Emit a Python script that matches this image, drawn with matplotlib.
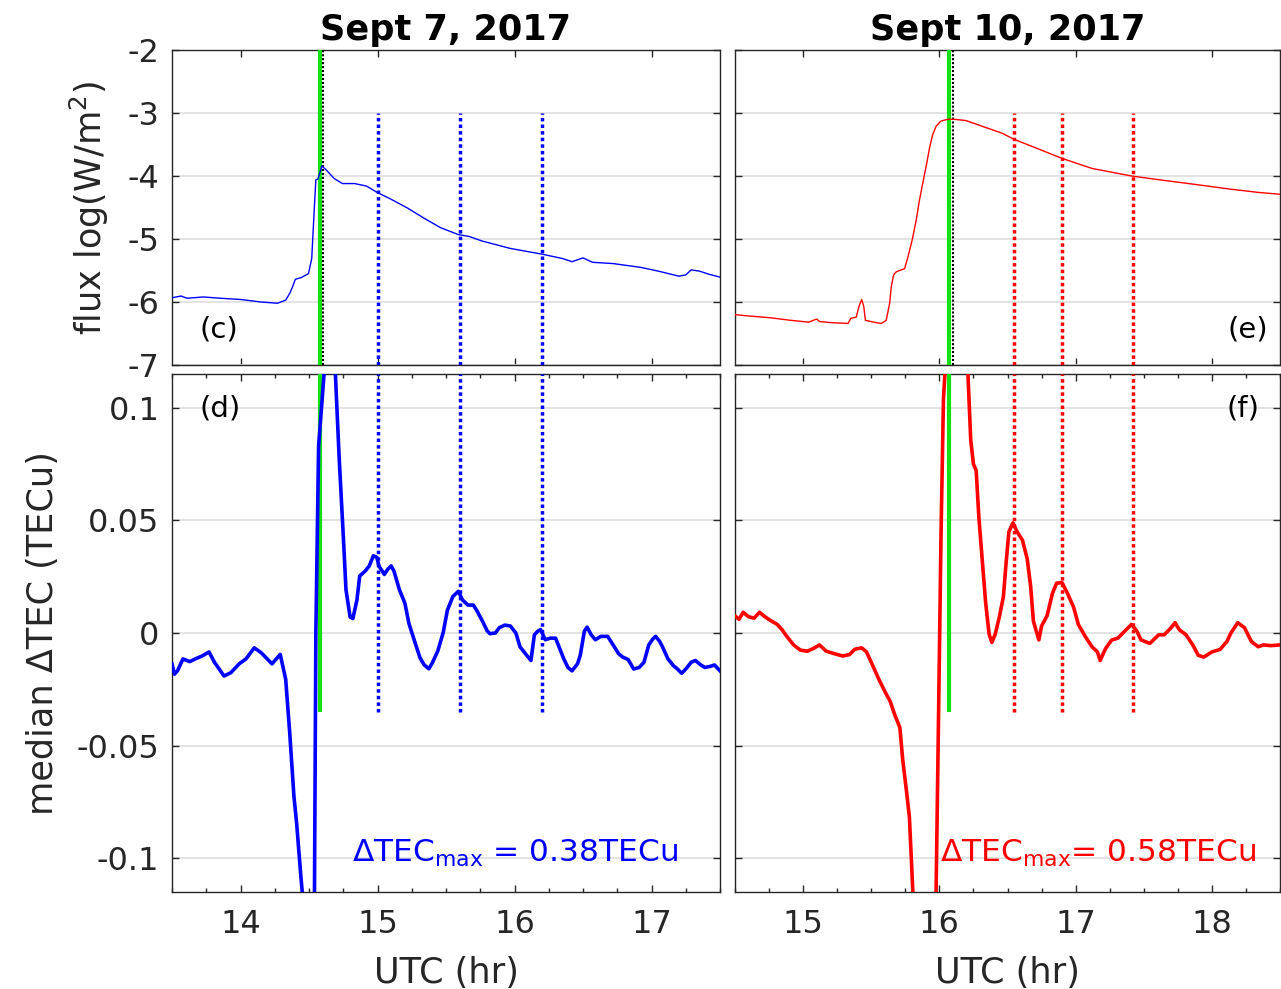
import matplotlib
matplotlib.use("Agg")
import matplotlib.pyplot as plt
from matplotlib.ticker import FixedLocator, MultipleLocator

plt.rcParams["font.family"] = ["DejaVu Sans"]
plt.rcParams["axes.unicode_minus"] = False

# ---------------- Sept 7, 2017 ----------------
flux7_hr = [13.507, 13.566, 13.61, 13.73, 13.85, 14.0, 14.15, 14.27, 14.33, 14.36,
            14.38, 14.40, 14.445, 14.496, 14.52, 14.535, 14.55, 14.565, 14.594, 14.624,
            14.684, 14.744, 14.833, 14.92, 14.997, 15.10, 15.22, 15.34, 15.46, 15.59,
            15.67, 15.76, 15.97, 16.20, 16.35, 16.42, 16.50, 16.57, 16.72, 16.92,
            17.05, 17.20, 17.25, 17.29, 17.35, 17.42, 17.51]
flux7_log = [-5.93, -5.905, -5.94, -5.92, -5.94, -5.96, -6.00, -6.02, -5.97, -5.86,
             -5.76, -5.64, -5.61, -5.55, -5.31, -4.67, -4.06, -4.05, -3.84, -3.90,
             -4.04, -4.12, -4.12, -4.16, -4.26, -4.37, -4.51, -4.67, -4.82, -4.93,
             -4.96, -5.03, -5.15, -5.24, -5.31, -5.36, -5.30, -5.37, -5.39, -5.45,
             -5.51, -5.59, -5.57, -5.49, -5.51, -5.56, -5.61]

tec7_hr = [13.50, 13.518, 13.54, 13.58, 13.63, 13.67, 13.72, 13.77, 13.81, 13.88,
           13.93, 13.99, 14.04, 14.10, 14.15, 14.23, 14.29, 14.33, 14.36, 14.39,
           14.41, 14.44, 14.45, 14.50, 14.54, 14.55, 14.57, 14.61, 14.65, 14.693,
           14.72, 14.75, 14.77, 14.80, 14.82, 14.85, 14.87, 14.91, 14.94, 14.97,
           14.995, 15.01, 15.05, 15.075, 15.10, 15.12, 15.16, 15.20, 15.23, 15.27,
           15.31, 15.34, 15.375, 15.40, 15.44, 15.48, 15.51, 15.55, 15.59, 15.62,
           15.66, 15.70, 15.73, 15.77, 15.80, 15.82, 15.86, 15.89, 15.93, 15.97,
           16.01, 16.04, 16.08, 16.12, 16.145, 16.17, 16.19, 16.225, 16.26, 16.30,
           16.33, 16.36, 16.39, 16.42, 16.46, 16.48, 16.51, 16.53, 16.56, 16.59,
           16.63, 16.68, 16.72, 16.76, 16.79, 16.83, 16.87, 16.91, 16.945, 16.98,
           17.01, 17.03, 17.06, 17.08, 17.12, 17.16, 17.19, 17.22, 17.25, 17.29,
           17.32, 17.36, 17.39, 17.43, 17.46, 17.50]
tec7_val = [-0.0137, -0.0183, -0.0168, -0.0115, -0.0127, -0.0115, -0.0102, -0.0084, -0.0130, -0.0191,
            -0.0176, -0.0137, -0.0115, -0.0066, -0.0087, -0.0137, -0.0095, -0.0206, -0.0450, -0.0725,
            -0.0847, -0.1076, -0.1145, -0.2100, -0.1150, 0.0000, 0.0830, 0.1150, 0.3800, 0.1145,
            0.0780, 0.0434, 0.0192, 0.0071, 0.0064, 0.0147, 0.0253, 0.0275, 0.0298, 0.0343,
            0.0336, 0.0298, 0.0260, 0.0283, 0.0298, 0.0275, 0.0192, 0.0132, 0.0041, -0.0035,
            -0.0110, -0.0141, -0.0159, -0.0133, -0.0080, 0.0003, 0.0101, 0.0162, 0.0185, 0.0147,
            0.0124, 0.0124, 0.0094, 0.0048, 0.0010, -0.0003, 0.0000, 0.0024, 0.0035, 0.0031,
            0.0000, -0.0061, -0.0092, -0.0122, -0.0008, 0.0008, 0.0015, -0.0030, -0.0023, -0.0023,
            -0.0069, -0.0115, -0.0153, -0.0168, -0.0137, -0.0099, 0.0008, 0.0026, -0.0008, -0.0030,
            -0.0015, -0.0015, -0.0053, -0.0092, -0.0107, -0.0118, -0.0160, -0.0153, -0.0130, -0.0053,
            -0.0026, -0.0015, -0.0038, -0.0061, -0.0115, -0.0145, -0.0160, -0.0179, -0.0160, -0.0130,
            -0.0122, -0.0142, -0.0153, -0.0148, -0.0142, -0.0168]

flare7_hr = 14.577
peak7_hr = 14.60
marks7_hr = [15.0, 15.6, 16.2]
label7 = r"$\Delta$TEC$_{\mathrm{max}}$ = 0.38TECu"

# ---------------- Sept 10, 2017 ----------------
flux10_hr = [14.50, 14.59, 14.76, 14.905, 15.04, 15.10, 15.12, 15.22, 15.33, 15.35,
             15.39, 15.41, 15.43, 15.445, 15.457, 15.54, 15.574, 15.61, 15.635, 15.647,
             15.664, 15.684, 15.745, 15.77, 15.80, 15.83, 15.854, 15.883, 15.907, 15.93,
             15.95, 15.976, 16.01, 16.06, 16.11, 16.195, 16.34, 16.46, 16.55, 16.68,
             16.90, 17.12, 17.41, 17.65, 17.90, 18.14, 18.34, 18.50]
flux10_log = [-6.20, -6.22, -6.25, -6.29, -6.32, -6.27, -6.31, -6.33, -6.34, -6.26,
              -6.24, -6.07, -5.96, -6.07, -6.29, -6.33, -6.34, -6.29, -6.02, -5.76,
              -5.57, -5.52, -5.47, -5.28, -5.02, -4.70, -4.38, -4.06, -3.80, -3.53,
              -3.35, -3.21, -3.13, -3.10, -3.10, -3.12, -3.23, -3.32, -3.42, -3.53,
              -3.72, -3.88, -4.00, -4.07, -4.14, -4.21, -4.26, -4.29]

tec10_hr = [14.50, 14.53, 14.56, 14.60, 14.64, 14.68, 14.72, 14.76, 14.81, 14.845,
            14.88, 14.93, 14.98, 15.03, 15.075, 15.12, 15.17, 15.23, 15.29, 15.34,
            15.38, 15.43, 15.465, 15.50, 15.55, 15.60, 15.64, 15.67, 15.71, 15.73,
            15.76, 15.78, 15.805, 15.89, 15.976, 15.995, 16.012, 16.03, 16.04, 16.12,
            16.21, 16.23, 16.25, 16.27, 16.29, 16.32, 16.34, 16.365, 16.385, 16.41,
            16.44, 16.47, 16.49, 16.51, 16.54, 16.57, 16.61, 16.645, 16.67, 16.69,
            16.73, 16.75, 16.79, 16.83, 16.86, 16.90, 16.94, 16.985, 17.02, 17.07,
            17.12, 17.16, 17.18, 17.22, 17.265, 17.31, 17.36, 17.41, 17.45, 17.48,
            17.545, 17.61, 17.65, 17.70, 17.73, 17.76, 17.81, 17.86, 17.90, 17.94,
            18.00, 18.06, 18.11, 18.14, 18.19, 18.24, 18.29, 18.34, 18.38, 18.43,
            18.50]
tec10_val = [0.0076, 0.0061, 0.0092, 0.0072, 0.0066, 0.0092, 0.0072, 0.0056, 0.0038, 0.0015,
             -0.0015, -0.0053, -0.0076, -0.0081, -0.0069, -0.0053, -0.0081, -0.0092, -0.0102, -0.0096,
             -0.0072, -0.0066, -0.0084, -0.0130, -0.0198, -0.0260, -0.0305, -0.0359, -0.0420, -0.0557,
             -0.0710, -0.0817, -0.1145, -0.2600, -0.1145, -0.0320, 0.0434, 0.1040, 0.1145, 0.5800,
             0.1145, 0.0858, 0.0750, 0.0722, 0.0512, 0.0283, 0.0132, -0.0005, -0.0042, -0.0005,
             0.0071, 0.0162, 0.0313, 0.0449, 0.0489, 0.0450, 0.0412, 0.0328, 0.0206, 0.0053,
             -0.0031, 0.0031, 0.0076, 0.0176, 0.0221, 0.0224, 0.0176, 0.0115, 0.0038, -0.0015,
             -0.0061, -0.0084, -0.0122, -0.0069, -0.0031, -0.0023, 0.0008, 0.0038, 0.0008, -0.0031,
             -0.0046, -0.0008, -0.0008, 0.0023, 0.0046, 0.0015, -0.0008, -0.0053, -0.0099, -0.0107,
             -0.0084, -0.0073, -0.0038, 0.0000, 0.0046, 0.0023, -0.0038, -0.0061, -0.0053, -0.0056,
             -0.0053]

flare10_hr = 16.073
peak10_hr = 16.10
marks10_hr = [16.55, 16.9, 17.42]
label10 = r"$\Delta$TEC$_{\mathrm{max}}$= 0.58TECu"

titles = ["Sept 7, 2017", "Sept 10, 2017"]
flux_ticks = [-7, -6, -5, -4, -3, -2]
tec_ticks = [-0.1, -0.05, 0, 0.05, 0.1]
tec_ticklabels = ["-0.1", "-0.05", "0", "0.05", "0.1"]

# ---------------- figure ----------------
INK = "#262626"
GRID = "#dedede"
GREEN = "#14e014"
TICK_FS = 23
LABEL_FS = 25.3

fig = plt.figure(figsize=(12.81, 9.89), dpi=100)
W, H = 1281.0, 989.0


def box(x0, y0, x1, y1):
    return [x0 / W, 1 - y1 / H, (x1 - x0) / W, (y1 - y0) / H]


ax_c = fig.add_axes(box(172, 50, 720, 365))
ax_d = fig.add_axes(box(172, 374, 720, 892))
ax_e = fig.add_axes(box(735, 50, 1280, 365))
ax_f = fig.add_axes(box(735, 374, 1280, 892))


def style(ax, minor):
    for s in ax.spines.values():
        s.set_color(INK)
        s.set_linewidth(1.0)
    ax.tick_params(which="both", direction="in", top=True, right=True,
                   colors=INK, labelsize=TICK_FS, width=1.0)
    ax.tick_params(which="major", length=5)
    ax.tick_params(axis="y", which="major", pad=9)
    ax.tick_params(axis="x", which="major", pad=12)
    ax.tick_params(which="minor", length=3)
    ax.xaxis.set_major_locator(MultipleLocator(1))
    if minor:
        ax.xaxis.set_minor_locator(MultipleLocator(0.25))
    ax.grid(axis="y", color=GRID, lw=1.2)
    ax.set_axisbelow(True)


panels = [
    (ax_c, ax_d, (13.5, 17.5), flux7_hr, flux7_log, tec7_hr, tec7_val, "blue",
     flare7_hr, peak7_hr, marks7_hr, label7, "(c)", "(d)", titles[0]),
    (ax_e, ax_f, (14.5, 18.5), flux10_hr, flux10_log, tec10_hr, tec10_val, "red",
     flare10_hr, peak10_hr, marks10_hr, label10, "(e)", "(f)", titles[1]),
]

DOT = (0, (1, 0.9))

for i, (axt, axb, xl, fh, fv, th, tv, col, fl, pk, mk, lab, tl, bl, title) in enumerate(panels):
    # X-ray flux panel
    style(axt, minor=False)
    axt.set_xlim(*xl)
    axt.set_ylim(-7, -2)
    axt.yaxis.set_major_locator(FixedLocator(flux_ticks))
    axt.tick_params(labelbottom=False)
    axt.axvline(fl, color=GREEN, lw=3.0, zorder=3)
    axt.axvline(pk, color="black", lw=1.5, ls=DOT, zorder=3)
    axt.vlines(mk, -7, -3, colors=col, lw=2.5, linestyles=[DOT], zorder=3)
    axt.plot(fh, fv, color=col, lw=1.0, zorder=4)
    axt.set_title(title, fontsize=LABEL_FS, fontweight="bold", pad=7)

    # median dTEC panel
    style(axb, minor=True)
    axb.set_xlim(*xl)
    axb.set_ylim(-0.115, 0.115)
    axb.yaxis.set_major_locator(FixedLocator(tec_ticks))
    axb.vlines([fl], -0.035, 0.115, colors=GREEN, lw=3.0, zorder=3)
    axb.vlines(mk, -0.035, 0.115, colors=col, lw=2.5, linestyles=[DOT], zorder=3)
    axb.plot(th, tv, color=col, lw=2.6, solid_joinstyle="round", zorder=4)
    axb.set_xlabel("UTC (hr)", fontsize=LABEL_FS, color=INK, labelpad=12)

    if i == 0:
        axt.set_yticklabels([str(t) for t in flux_ticks])
        axb.set_yticklabels(tec_ticklabels)
        axt.set_ylabel("flux log(W/m$^2$)", fontsize=LABEL_FS, color=INK, labelpad=12)
        axb.set_ylabel("median ΔTEC (TECu)", fontsize=LABEL_FS, color=INK, labelpad=12)
        axt.text(0.051, 0.114, tl, transform=axt.transAxes, fontsize=21,
                 ha="left", va="center", color="black")
        axb.text(0.051, 0.934, bl, transform=axb.transAxes, fontsize=21,
                 ha="left", va="center", color="black")
        axb.text(0.328, 0.058, lab, transform=axb.transAxes, fontsize=22.5,
                 ha="left", va="baseline", color=col)
    else:
        axt.tick_params(labelleft=False)
        axb.tick_params(labelleft=False)
        axt.text(0.978, 0.114, tl, transform=axt.transAxes, fontsize=21,
                 ha="right", va="center", color="black")
        axb.text(0.963, 0.934, bl, transform=axb.transAxes, fontsize=21,
                 ha="right", va="center", color="black")
        axb.text(0.376, 0.058, lab, transform=axb.transAxes, fontsize=22.5,
                 ha="left", va="baseline", color=col)

fig.savefig("out.png", dpi=100)
